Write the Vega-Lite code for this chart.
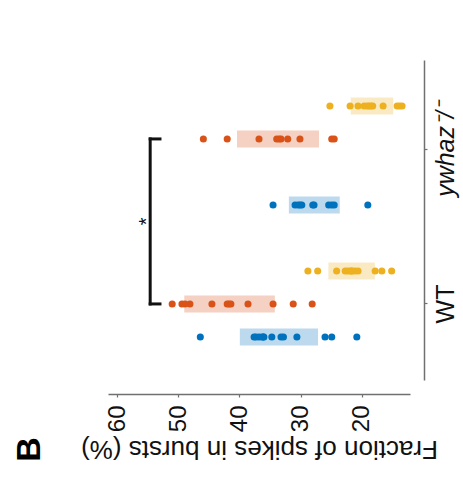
{
  "$schema": "https://vega.github.io/schema/vega-lite/v6.json",
  "autosize": "none",
  "width": 302,
  "height": 320,
  "padding": {"left": 108, "top": 60, "right": 53, "bottom": 103},
  "background": "white",
  "config": {
    "view": {"stroke": null},
    "font": "Liberation Sans",
    "axis": {"grid": false, "domainColor": "#707070", "tickColor": "#707070", "domainWidth": 1.5, "tickWidth": 1.2, "labelColor": "#111111", "titleColor": "#111111", "titleFontWeight": "normal"}
  },
  "title": {"text": "B", "orient": "left", "anchor": "start", "frame": "bounds", "fontSize": 34, "fontWeight": "bold", "color": "#000000", "offset": 34},
  "datasets": {
    "pts": [
      {"genotype": "WT", "cond": "A", "group": "WT A", "v": 46.4},
      {"genotype": "WT", "cond": "A", "group": "WT A", "v": 37.6},
      {"genotype": "WT", "cond": "A", "group": "WT A", "v": 37.3},
      {"genotype": "WT", "cond": "A", "group": "WT A", "v": 36.8},
      {"genotype": "WT", "cond": "A", "group": "WT A", "v": 36.3},
      {"genotype": "WT", "cond": "A", "group": "WT A", "v": 36.0},
      {"genotype": "WT", "cond": "A", "group": "WT A", "v": 36.1},
      {"genotype": "WT", "cond": "A", "group": "WT A", "v": 34.7},
      {"genotype": "WT", "cond": "A", "group": "WT A", "v": 33.2},
      {"genotype": "WT", "cond": "A", "group": "WT A", "v": 32.8},
      {"genotype": "WT", "cond": "A", "group": "WT A", "v": 30.6},
      {"genotype": "WT", "cond": "A", "group": "WT A", "v": 26.0},
      {"genotype": "WT", "cond": "A", "group": "WT A", "v": 24.9},
      {"genotype": "WT", "cond": "A", "group": "WT A", "v": 20.8},
      {"genotype": "WT", "cond": "B", "group": "WT B", "v": 51.0},
      {"genotype": "WT", "cond": "B", "group": "WT B", "v": 49.4},
      {"genotype": "WT", "cond": "B", "group": "WT B", "v": 48.9},
      {"genotype": "WT", "cond": "B", "group": "WT B", "v": 48.1},
      {"genotype": "WT", "cond": "B", "group": "WT B", "v": 44.5},
      {"genotype": "WT", "cond": "B", "group": "WT B", "v": 42.0},
      {"genotype": "WT", "cond": "B", "group": "WT B", "v": 41.7},
      {"genotype": "WT", "cond": "B", "group": "WT B", "v": 41.4},
      {"genotype": "WT", "cond": "B", "group": "WT B", "v": 38.6},
      {"genotype": "WT", "cond": "B", "group": "WT B", "v": 34.5},
      {"genotype": "WT", "cond": "B", "group": "WT B", "v": 31.2},
      {"genotype": "WT", "cond": "B", "group": "WT B", "v": 28.1},
      {"genotype": "WT", "cond": "C", "group": "WT C", "v": 28.8},
      {"genotype": "WT", "cond": "C", "group": "WT C", "v": 27.2},
      {"genotype": "WT", "cond": "C", "group": "WT C", "v": 24.1},
      {"genotype": "WT", "cond": "C", "group": "WT C", "v": 22.7},
      {"genotype": "WT", "cond": "C", "group": "WT C", "v": 22.3},
      {"genotype": "WT", "cond": "C", "group": "WT C", "v": 21.9},
      {"genotype": "WT", "cond": "C", "group": "WT C", "v": 21.6},
      {"genotype": "WT", "cond": "C", "group": "WT C", "v": 21.6},
      {"genotype": "WT", "cond": "C", "group": "WT C", "v": 21.1},
      {"genotype": "WT", "cond": "C", "group": "WT C", "v": 20.6},
      {"genotype": "WT", "cond": "C", "group": "WT C", "v": 17.8},
      {"genotype": "WT", "cond": "C", "group": "WT C", "v": 16.7},
      {"genotype": "WT", "cond": "C", "group": "WT C", "v": 15.1},
      {"genotype": "ywhaz", "cond": "A", "group": "ywhaz A", "v": 34.5},
      {"genotype": "ywhaz", "cond": "A", "group": "ywhaz A", "v": 30.9},
      {"genotype": "ywhaz", "cond": "A", "group": "ywhaz A", "v": 30.4},
      {"genotype": "ywhaz", "cond": "A", "group": "ywhaz A", "v": 30.1},
      {"genotype": "ywhaz", "cond": "A", "group": "ywhaz A", "v": 29.8},
      {"genotype": "ywhaz", "cond": "A", "group": "ywhaz A", "v": 28.0},
      {"genotype": "ywhaz", "cond": "A", "group": "ywhaz A", "v": 27.8},
      {"genotype": "ywhaz", "cond": "A", "group": "ywhaz A", "v": 25.4},
      {"genotype": "ywhaz", "cond": "A", "group": "ywhaz A", "v": 24.9},
      {"genotype": "ywhaz", "cond": "A", "group": "ywhaz A", "v": 24.5},
      {"genotype": "ywhaz", "cond": "A", "group": "ywhaz A", "v": 19.0},
      {"genotype": "ywhaz", "cond": "B", "group": "ywhaz B", "v": 45.9},
      {"genotype": "ywhaz", "cond": "B", "group": "ywhaz B", "v": 42.0},
      {"genotype": "ywhaz", "cond": "B", "group": "ywhaz B", "v": 36.8},
      {"genotype": "ywhaz", "cond": "B", "group": "ywhaz B", "v": 33.9},
      {"genotype": "ywhaz", "cond": "B", "group": "ywhaz B", "v": 33.5},
      {"genotype": "ywhaz", "cond": "B", "group": "ywhaz B", "v": 33.2},
      {"genotype": "ywhaz", "cond": "B", "group": "ywhaz B", "v": 32.1},
      {"genotype": "ywhaz", "cond": "B", "group": "ywhaz B", "v": 30.1},
      {"genotype": "ywhaz", "cond": "B", "group": "ywhaz B", "v": 24.9},
      {"genotype": "ywhaz", "cond": "B", "group": "ywhaz B", "v": 24.5},
      {"genotype": "ywhaz", "cond": "C", "group": "ywhaz C", "v": 25.2},
      {"genotype": "ywhaz", "cond": "C", "group": "ywhaz C", "v": 21.9},
      {"genotype": "ywhaz", "cond": "C", "group": "ywhaz C", "v": 20.6},
      {"genotype": "ywhaz", "cond": "C", "group": "ywhaz C", "v": 19.6},
      {"genotype": "ywhaz", "cond": "C", "group": "ywhaz C", "v": 19.1},
      {"genotype": "ywhaz", "cond": "C", "group": "ywhaz C", "v": 18.8},
      {"genotype": "ywhaz", "cond": "C", "group": "ywhaz C", "v": 18.5},
      {"genotype": "ywhaz", "cond": "C", "group": "ywhaz C", "v": 18.2},
      {"genotype": "ywhaz", "cond": "C", "group": "ywhaz C", "v": 16.5},
      {"genotype": "ywhaz", "cond": "C", "group": "ywhaz C", "v": 14.2},
      {"genotype": "ywhaz", "cond": "C", "group": "ywhaz C", "v": 13.8},
      {"genotype": "ywhaz", "cond": "C", "group": "ywhaz C", "v": 13.4}
    ],
    "sig": [
      {"from": "WT B", "to": "ywhaz B", "at": "sig", "x": 54.6, "label": "*", "starx": 55.1}
    ],
    "caps": [
      {"y": "WT B", "x": 54.6, "x2": 53.0},
      {"y": "ywhaz B", "x": 54.6, "x2": 53.0}
    ]
  },
  "encoding": {
    "x": {
      "field": "v", "type": "quantitative",
      "scale": {"domain": [12.1, 61.5], "reverse": true, "nice": false, "zero": false},
      "axis": {"values": [20, 30, 40, 50, 60], "title": "Fraction of spikes in bursts (%)", "titleAngle": 180, "titleBaseline": "bottom", "labelAngle": -90, "offset": 14, "tickSize": 3, "labelPadding": 8, "labelFontSize": 24, "titleFontSize": 26, "titlePadding": 4}
    },
    "y": {
      "field": "group", "type": "nominal",
      "scale": {"type": "band", "paddingInner": 0, "paddingOuter": 0.545, "align": 0.62, "domain": ["t1", "t2", "t3", "ywhaz C", "g1", "g2", "ywhaz B", "ywhaz-/-", "g5", "g6", "g7", "g8", "ywhaz A", "sig", "g11", "g12", "g13", "g14", "WT C", "g16", "g17", "WT B", "g19", "g20", "WT A", "b1", "b2", "b3"]},
      "axis": {"orient": "right", "values": ["ywhaz-/-", "WT B"], "labelExpr": "datum.value == 'WT B' ? 'WT' : 'ywhaz⁻/⁻'", "labelAngle": -90, "offset": 14, "title": null, "tickSize": 3, "labelFontSize": 25, "labelPadding": 6, "labelFontStyle": {"condition": {"test": "datum.value == 'WT B'", "value": "normal"}, "value": "italic"}}
    },
    "color": {"field": "cond", "type": "nominal", "scale": {"domain": ["A", "B", "C"], "range": ["#0072BD", "#D95319", "#EDB120"]}, "legend": null}
  },
  "layer": [
    {"data": {"name": "pts"}, "mark": {"type": "errorbar", "extent": "stdev", "rule": {"strokeWidth": 17, "opacity": 0.16}}},
    {"data": {"name": "pts"}, "mark": {"type": "errorbar", "extent": "stderr", "rule": {"strokeWidth": 17, "opacity": 0.12}}},
    {"data": {"name": "pts"}, "mark": {"type": "circle", "size": 50, "opacity": 1}},
    {"data": {"name": "sig"}, "mark": {"type": "rule", "color": "#111111", "strokeWidth": 3, "strokeCap": "square"},
     "encoding": {"x": {"field": "x", "type": "quantitative"}, "y": {"field": "from", "type": "nominal"}, "y2": {"field": "to"}, "color": {"value": "#111111"}}},
    {"data": {"name": "caps"}, "mark": {"type": "rule", "color": "#111111", "strokeWidth": 3, "strokeCap": "square"},
     "encoding": {"x": {"field": "x", "type": "quantitative"}, "x2": {"field": "x2"}, "y": {"field": "y", "type": "nominal"}, "color": {"value": "#111111"}}},
    {"data": {"name": "sig"}, "mark": {"type": "text", "angle": 270, "fontSize": 20, "align": "center", "baseline": "middle"},
     "encoding": {"x": {"field": "starx", "type": "quantitative"}, "y": {"field": "at", "type": "nominal", "bandPosition": 1}, "text": {"field": "label"}, "color": {"value": "#111111"}}}
  ]
}
